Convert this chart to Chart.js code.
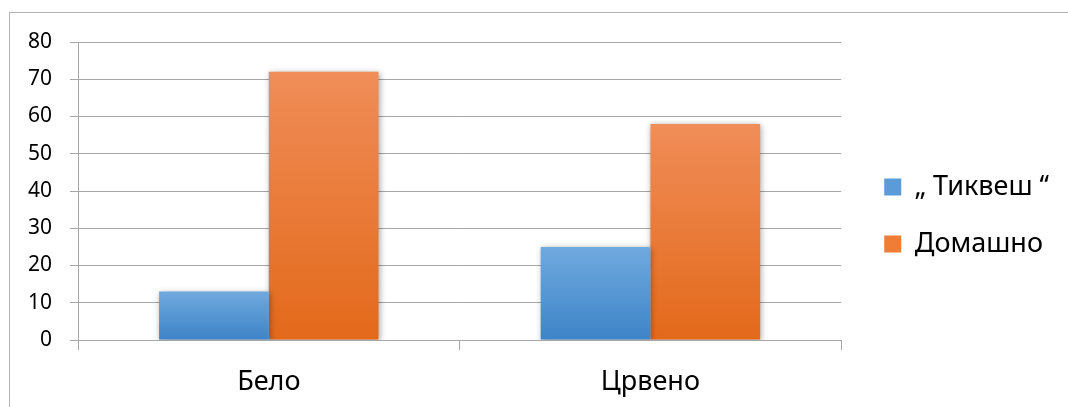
<!DOCTYPE html>
<html>
<head>
<meta charset="utf-8">
<script src="https://cdn.jsdelivr.net/npm/chart.js@4/dist/chart.umd.min.js"></script>
<style>
  html, body { margin: 0; padding: 0; background: #fff; overflow: hidden; }
  #frame { position: absolute; left: 9px; top: 12px; width: 1100px; height: 420px; border: 1px solid #b3b3b3; }
  canvas { position: absolute; left: 0; top: 0; }
</style>
</head>
<body>
<div id="frame"></div>
<canvas id="myChart" width="1068" height="407"></canvas>
<script>
var categories = ["Бело", "Црвено"];
var seriesNames = ["„ Тиквеш ‘‘", "Домашно"];
var tikvesh = [13, 25];
var domashno = [72, 58];
var yTicks = [0, 10, 20, 30, 40, 50, 60, 70, 80];

var FONT = "'Noto Sans', 'Open Sans', sans-serif";
var LEGEND_GAP = 13;

// gradient per bar, top lighter, bottom darker
function barGradient(top, bottom) {
    return function (ctx) {
        var chart = ctx.chart;
        if (!chart.chartArea || ctx.type !== 'data') return top;
        var y = chart.scales.y;
        var y0 = y.getPixelForValue(0);
        var y1 = y.getPixelForValue(ctx.raw);
        if (!isFinite(y0) || !isFinite(y1) || y0 === y1) return top;
        var g = chart.ctx.createLinearGradient(0, y1, 0, y0);
        g.addColorStop(0, top);
        g.addColorStop(1, bottom);
        return g;
    };
}

var barShadow = {
    id: 'barShadow',
    beforeDatasetsDraw: function (chart) {
        var c = chart.ctx;
        c.save();
        c.shadowColor = 'rgba(0,0,0,0.35)';
        c.shadowBlur = 6;
        c.shadowOffsetX = 1;
        c.shadowOffsetY = 1;
    },
    afterDatasetsDraw: function (chart) {
        chart.ctx.restore();
    }
};

// a bit more room between plot and legend, without changing row spacing
var legendGap = {
    id: 'legendGap',
    beforeLayout: function (chart) {
        var lg = chart.legend;
        if (!lg || lg._gapWrapped) return;
        var fit = lg.fit;
        lg.fit = function () {
            fit.call(this);
            this.width += LEGEND_GAP;
        };
        lg._gapWrapped = true;
    },
    afterLayout: function (chart) {
        if (chart.legend) chart.legend.left += LEGEND_GAP;
    }
};

new Chart("myChart", {
    type: "bar",
    data: {
        labels: categories,
        datasets: [{
            label: seriesNames[0],
            data: tikvesh,
            backgroundColor: barGradient("#70a9de", "#3d84c8")
        }, {
            label: seriesNames[1],
            data: domashno,
            backgroundColor: barGradient("#f08d58", "#e3691a")
        }]
    },
    options: {
        responsive: false,
        animation: false,
        categoryPercentage: 0.575,
        barPercentage: 1,
        layout: { padding: { top: 24, left: 0, right: 9, bottom: 0 } },
        plugins: {
            // empty spacer title so the plot starts lower than the legend box
            title: {
                display: true,
                text: " ",
                fullSize: false,
                font: { size: 1, lineHeight: 1 },
                padding: { top: 0, bottom: 17 }
            },
            legend: {
                position: "right",
                labels: {
                    font: { family: FONT, size: 27 },
                    color: "#000",
                    boxWidth: 17,
                    boxHeight: 17,
                    padding: 30,
                    generateLabels: function (chart) {
                        var fills = ["#5a9bd8", "#f07d35"];
                        return chart.data.datasets.map(function (ds, i) {
                            return { text: ds.label, fillStyle: fills[i], strokeStyle: fills[i], lineWidth: 0, datasetIndex: i };
                        });
                    }
                }
            },
            tooltip: { enabled: false }
        },
        scales: {
            x: {
                offset: true,
                grid: { offset: true, drawOnChartArea: false, color: "#a6a6a6", tickLength: 10 },
                border: { display: false },
                ticks: { font: { family: FONT, size: 27 }, color: "#000", padding: 16 },
                afterFit: function (s) { s.height = 407 - 340; }
            },
            y: {
                min: 0,
                max: 80,
                afterBuildTicks: function (s) { s.ticks = yTicks.map(function (v) { return { value: v }; }); },
                grid: { color: "#a6a6a6", tickLength: 8 },
                border: { color: "#a6a6a6" },
                ticks: { font: { family: FONT, size: 21 }, color: "#000", padding: 18 },
                afterFit: function (s) { s.width = 78; }
            }
        }
    },
    plugins: [barShadow, legendGap]
});
</script>
</body>
</html>
